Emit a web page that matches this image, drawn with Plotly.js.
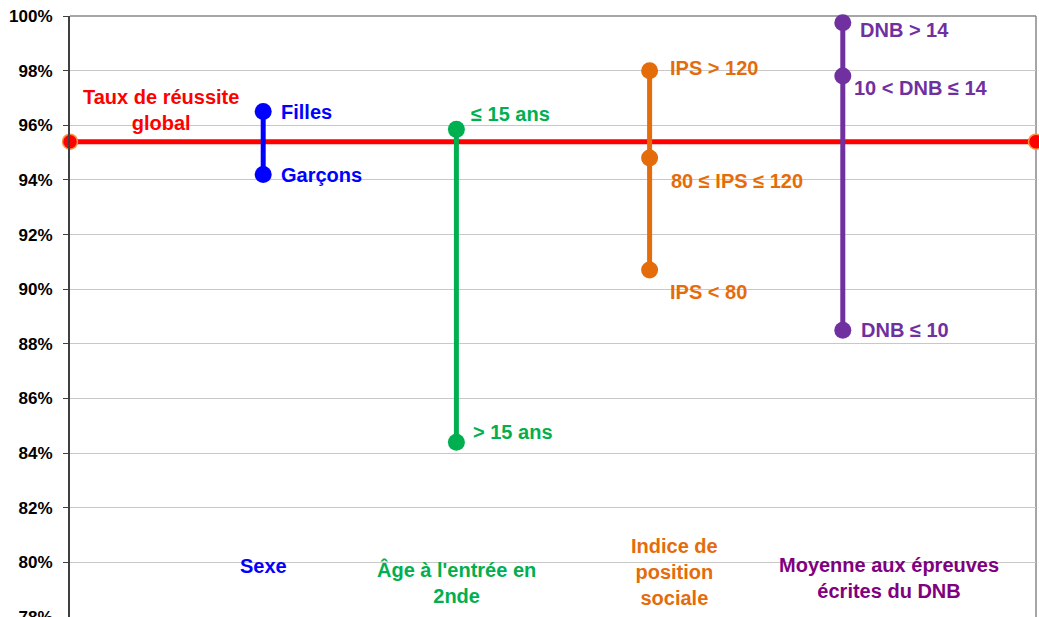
<!DOCTYPE html>
<html><head><meta charset="utf-8">
<script src="https://cdn.plot.ly/plotly-3.0.1.min.js"></script>
<style>html,body{margin:0;padding:0;background:#fff;}#chart{width:1039px;height:617px;}</style>
</head><body><div id="chart"></div>
<script>
// ---- data ----
const globalRate = 95.4;
const globalLabel = "Taux de réussite<br>global";
const groups = ["Sexe", "Âge à l'entrée en<br>2nde", "Indice de<br>position<br>sociale", "Moyenne aux épreuves<br>écrites du DNB"];
const sexeLabels = ["Filles", "Garçons"];
const sexeValues = [96.5, 94.2];
const ageLabels = ["≤ 15 ans", "> 15 ans"];
const ageValues = [95.85, 84.4];
const ipsLabels = ["IPS > 120", "80 ≤ IPS ≤ 120", "IPS < 80"];
const ipsValues = [98.0, 94.8, 90.7];
const dnbLabels = ["DNB > 14", "10 < DNB ≤ 14", "DNB ≤ 10"];
const dnbValues = [99.75, 97.8, 88.5];

// ---- styles ----
const FONT = "Arial, 'Liberation Sans', sans-serif";
const colors = ["#0000FF", "#00B050", "#E46C0A", "#7030A0"];
const groupTextColors = ["#0000FF", "#00B050", "#E46C0A", "#800080"];
const seriesLabels = [sexeLabels, ageLabels, ipsLabels, dnbLabels];
const seriesValues = [sexeValues, ageValues, ipsValues, dnbValues];
// pixel offsets for point labels [xshift, yshift]
const labelShifts = [
  [[16,0],[16,-1]],
  [[13,15],[15,10]],
  [[18,3],[19,-23],[18,-22]],
  [[15,-7],[9,-12],[16,0]]
];
const groupLabelY = [79.87, 79.26, 79.64, 79.44];
const groupLabelX = [1, 2, 3.13, 4.24];

const traces = [];
// global line
traces.push({
  x: [0, 5], y: [globalRate, globalRate], type: 'scatter', mode: 'lines+markers',
  line: {color: '#FF0000', width: 5},
  marker: {size: 15, color: '#FF0000', line: {color: '#F79646', width: 1.5}},
  cliponaxis: false, hoverinfo: 'skip'
});
seriesValues.forEach((vals, i) => {
  traces.push({
    x: vals.map(() => i + 1), y: vals, type: 'scatter', mode: 'lines+markers',
    line: {color: colors[i], width: 5},
    marker: {size: 17, color: colors[i]},
    cliponaxis: false, hoverinfo: 'skip'
  });
});

const annotations = [];
annotations.push({x: 0.47, y: 95.4, xref: 'x', yref: 'y', text: globalLabel, showarrow: false,
  xanchor: 'center', yanchor: 'middle', yshift: 32,
  font: {family: FONT, size: 20, color: '#FF0000', weight: 700}});
seriesLabels.forEach((labs, i) => {
  labs.forEach((t, j) => {
    annotations.push({x: i + 1, y: seriesValues[i][j], xref: 'x', yref: 'y', text: t, showarrow: false,
      xanchor: 'left', yanchor: 'middle', xshift: labelShifts[i][j][0], yshift: labelShifts[i][j][1],
      font: {family: FONT, size: 20, color: colors[i], weight: 700}});
  });
});
groups.forEach((g, i) => {
  annotations.push({x: groupLabelX[i], y: groupLabelY[i], xref: 'x', yref: 'y', text: g, showarrow: false,
    xanchor: 'center', yanchor: 'middle',
    font: {family: FONT, size: 20, color: groupTextColors[i], weight: 700}});
});

const layout = {
  width: 1039, height: 617,
  margin: {l: 70, r: 3, t: 16, b: 0},
  paper_bgcolor: '#fff', plot_bgcolor: '#fff',
  showlegend: false,
  xaxis: {range: [0, 5], showgrid: false, zeroline: false, showticklabels: false, showline: false, fixedrange: true},
  yaxis: {range: [78, 100], dtick: 2, tick0: 78, ticksuffix: '%', showgrid: true, gridcolor: '#C8C8C8', gridwidth: 1,
    zeroline: false, showline: true, linecolor: '#404040', linewidth: 2, ticks: 'outside', ticklen: 5,
    tickcolor: '#404040', tickwidth: 1, ticklabelstandoff: 7, ticklabeloverflow: 'allow',
    tickfont: {family: FONT, size: 17, color: '#000', weight: 700}},
  shapes: [
    {type: 'line', xref: 'paper', yref: 'paper', x0: 0, x1: 1, y0: 1, y1: 1, line: {color: '#888', width: 1.5}, layer: 'below'},
    {type: 'line', xref: 'paper', yref: 'paper', x0: 1, x1: 1, y0: 0, y1: 1, line: {color: '#888', width: 1.5}, layer: 'below'}
  ],
  annotations: annotations
};
Plotly.newPlot('chart', traces, layout, {displayModeBar: false, staticPlot: true});
</script>
</body></html>
